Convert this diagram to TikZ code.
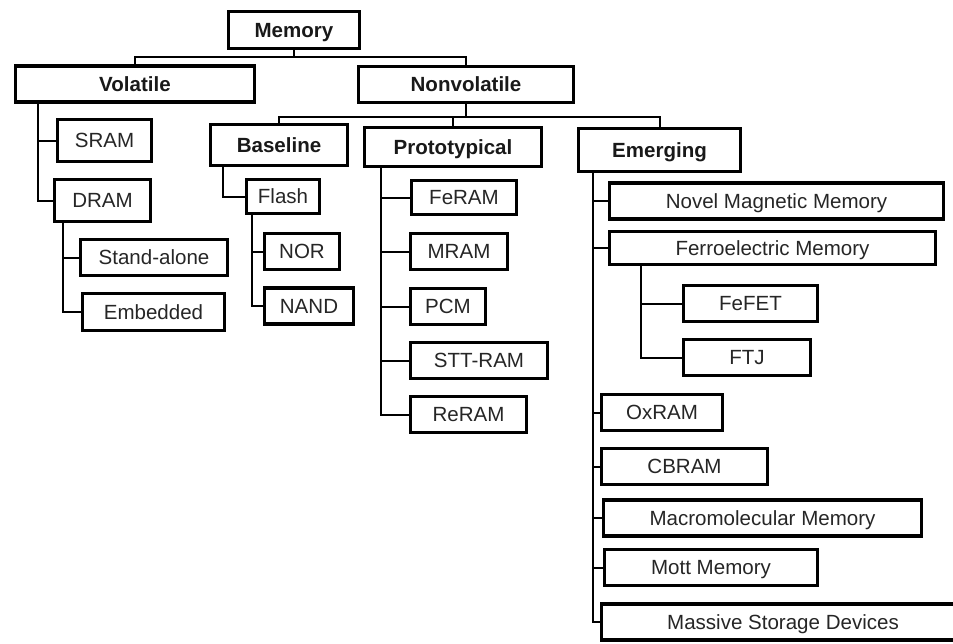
\documentclass[tikz,border=0pt]{standalone}
\usepackage{fontspec}
\setmainfont{Liberation Sans}
\tikzset{
    box/.style={draw=black,line width=2.3pt,fill=white,inner sep=0pt,
        minimum height=27pt,text=black!85,text height=11pt,text depth=0pt,
        font=\fontsize{15.4}{18}\selectfont},
    headbox/.style={box,font=\fontsize{15.4}{18}\selectfont\bfseries,text=black!90},
    link/.style={black,line width=1.5pt}
}
\begin{document}
\begin{tikzpicture}[x=0.75pt,y=-0.75pt]
    \useasboundingbox (0,0) rectangle (953,643);
    \clip (0,0) rectangle (953,643);
    % top levels
    \node[headbox,minimum width=98pt,minimum height=28pt] (mem) at (294,30) {Memory};
    \node[headbox,minimum width=179pt] (vol) at (135,84) {Volatile};
    \node[headbox,minimum width=161pt] (nonvol) at (466,84.5) {Nonvolatile};
    \node[headbox,minimum width=103pt,minimum height=31pt] (base) at (279,145) {Baseline};
    \node[headbox,minimum width=133pt,minimum height=29.5pt] (proto) at (453,147) {Prototypical};
    \node[headbox,minimum width=121.5pt,minimum height=32.5pt] (emerg) at (659.5,150) {Emerging};
    % volatile
    \node[box,minimum width=70.5pt,minimum height=31.5pt] (sram) at (104.5,140.5) {SRAM};
    \node[box,minimum width=72pt,minimum height=31.5pt] (dram) at (102.5,200.5) {DRAM};
    \node[box,minimum width=110pt] (stand) at (154,257.5) {Stand-alone};
    \node[box,minimum width=106.5pt,minimum height=28pt] (embed) at (153.5,312) {Embedded};
    % baseline
    \node[box,minimum width=55pt,minimum height=26pt] (flash) at (283,196.5) {Flash};
    \node[box,minimum width=56.5pt] (nor) at (302,251.5) {NOR};
    \node[box,minimum width=67pt] (nand) at (309,306) {NAND};
    % prototypical
    \node[box,minimum width=79pt,minimum height=26pt] (feram) at (464,197.5) {FeRAM};
    \node[box,minimum width=73pt] (mram) at (459,251.5) {MRAM};
    \node[box,minimum width=56.5pt] (pcm) at (448,306.5) {PCM};
    \node[box,minimum width=103pt] (stt) at (479,360.5) {STT-RAM};
    \node[box,minimum width=87pt] (reram) at (468.5,414.5) {ReRAM};
    % emerging
    \node[box,minimum width=250.5pt] (novel) at (776.5,201) {Novel Magnetic Memory};
    \node[box,minimum width=244.5pt,minimum height=25pt] (ferro) at (772.5,248) {Ferroelectric Memory};
    \node[box,minimum width=100.5pt] (fefet) at (750.5,303.5) {FeFET};
    \node[box,minimum width=95.5pt] (ftj) at (747,357.5) {FTJ};
    \node[box,minimum width=91pt] (oxram) at (662,412.5) {OxRAM};
    \node[box,minimum width=124.5pt] (cbram) at (684.5,466.5) {CBRAM};
    \node[box,minimum width=238.5pt] (macro) at (762.5,518) {Macromolecular Memory};
    \node[box,minimum width=160pt] (mott) at (711,567.5) {Mott Memory};
    \node[box,minimum width=272.5pt] (mass) at (783,622) {Massive Storage Devices};
    % connectors
    \coordinate (memj) at (294,57);
    \coordinate (nonvolj) at (466,117);
    \draw[link] (mem.south) -- (memj);
    \draw[link] (vol.north) |- (memj) -| (nonvol.north);
    \draw[link] (nonvol.south) -- (nonvolj);
    \draw[link] (base.north) |- (nonvolj) -| (emerg.north);
    \draw[link] (proto.north) -- (proto.north |- nonvolj);
    \foreach \n in {sram,dram}
        \draw[link] ([xshift=18pt]vol.south west) |- (\n.west);
    \foreach \n in {stand,embed}
        \draw[link] ([xshift=7.5pt]dram.south west) |- (\n.west);
    \draw[link] ([xshift=10.5pt]base.south west) |- (flash.west);
    \foreach \n in {nor,nand}
        \draw[link] ([xshift=5.25pt]flash.south west) |- (\n.west);
    \foreach \n in {feram,mram,pcm,stt,reram}
        \draw[link] ([xshift=13.5pt]proto.south west) |- (\n.west);
    \foreach \n in {novel,ferro,oxram,cbram,macro,mott,mass}
        \draw[link] ([xshift=12pt]emerg.south west) |- (\n.west);
    \foreach \n in {fefet,ftj}
        \draw[link] ([xshift=24.75pt]ferro.south west) |- (\n.west);
\end{tikzpicture}
\end{document}
